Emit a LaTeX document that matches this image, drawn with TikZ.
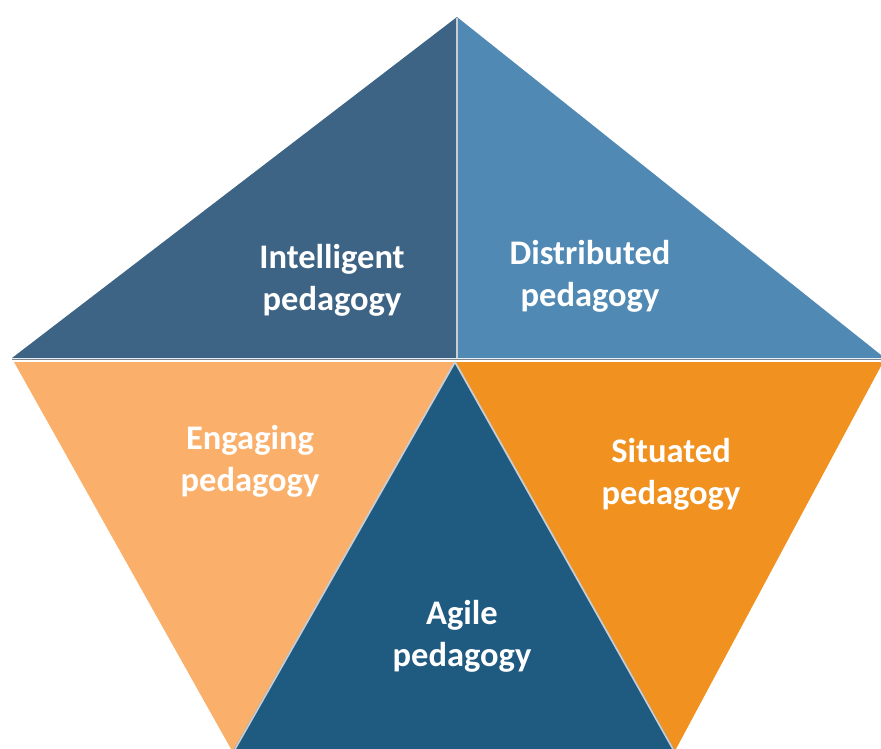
\documentclass[tikz,border=0pt]{standalone}
\usepackage{fontspec}
\setmainfont{Carlito}
\definecolor{cIntel}{HTML}{3E6485}
\definecolor{cDistr}{HTML}{5089B4}
\definecolor{cEngag}{HTML}{FAB06A}
\definecolor{cSitu}{HTML}{F1911F}
\definecolor{cAgile}{HTML}{1F5A80}
\definecolor{cSep}{HTML}{C8CDD3}
\definecolor{cEdge}{HTML}{7D858E}
\tikzset{
  facet/.style={line join=miter},
  lbl/.style={text=white, font=\fontsize{34.5}{42}\selectfont\bfseries, align=center, inner sep=0pt}
}
\begin{document}
\begin{tikzpicture}[x=1pt,y=-1pt]
\useasboundingbox (0,0) rectangle (881,749);
% upper triangles
\fill[facet, fill=cIntel] (12,358) -- (457,17) -- (457,358) -- cycle;
\fill[facet, fill=cDistr] (457,17) -- (881,355) -- (881,358) -- (457,358) -- cycle;
\draw[cSep, line width=2.5pt] (457,18) -- (457,358);
% lower triangles
\fill[facet, fill=cEngag] (14,362) -- (457,362) -- (235,749) -- (231,749) -- cycle;
\fill[facet, fill=cSitu] (455,362) -- (881,362) -- (881,366) -- (676,749) -- (670,749) -- cycle;
\fill[facet, fill=cAgile] (455,362) -- (674,749) -- (234,749) -- cycle;
\draw[cEdge, line width=1.8pt] (12,359.5) -- (881,359.5);
\draw[cSep, line width=1.8pt] (455,362) -- (235,749);
\draw[cSep, line width=1.8pt] (455,362) -- (673,749);
% labels
\node[lbl] (intel) at (332,280) {Intelligent\\pedagogy};
\node[lbl] (distr) at (590,276) {Distributed\\pedagogy};
\node[lbl] (engag) at (250,461) {Engaging\\pedagogy};
\node[lbl] (situ) at (671,474) {Situated\\pedagogy};
\node[lbl] (agile) at (462,636) {Agile\\pedagogy};
\end{tikzpicture}
\end{document}
